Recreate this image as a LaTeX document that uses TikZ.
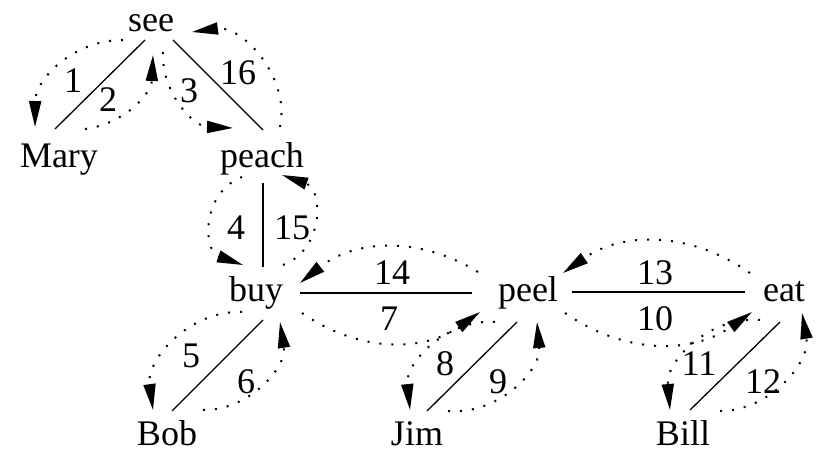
\documentclass[tikz,border=0pt]{standalone}
\usepackage{fontspec}
\setmainfont{Liberation Serif}
\usetikzlibrary{arrows.meta}
\begin{document}
\begin{tikzpicture}[x=1pt,y=1pt,
  word/.style={font=\fontsize{36}{40}\selectfont, inner sep=0pt, anchor=base},
  num/.style={font=\fontsize{36}{40}\selectfont, inner sep=0pt, anchor=base},
  edge/.style={line width=1.3pt},
  arc/.style={line width=2pt, dash pattern=on 2pt off 10pt,
    -{Triangle[length=26pt,width=12pt]}}]
\useasboundingbox (0,0) rectangle (819,453);
% words
\node[word] (see)   at (151,421) {see};
\node[word] (Mary)  at (59,285)  {Mary};
\node[word] (peach) at (262,285) {peach};
\node[word] (buy)   at (256,152) {buy};
\node[word] (peel)  at (528,152) {peel};
\node[word] (eat)   at (784,152) {eat};
\node[word] (Bob)   at (167,8)   {Bob};
\node[word] (Jim)   at (417,8)   {Jim};
\node[word] (Bill)  at (683,8)   {Bill};
% tree edges
\draw[edge] ([shift={(-4,39)}]Mary.base) -- ([shift={(-6,-8)}]see.base);
\draw[edge] ([shift={(22,-8)}]see.base) -- ([shift={(1,38)}]peach.base);
\draw[edge] ([shift={(1,-15)}]peach.base) -- ([shift={(7,34)}]buy.base);
\draw[edge] ([shift={(44,8)}]buy.base) -- ([shift={(-56,8)}]peel.base);
\draw[edge] ([shift={(7,-19)}]buy.base) -- ([shift={(5,34)}]Bob.base);
\draw[edge] ([shift={(-11,-21)}]peel.base) -- ([shift={(10,34)}]Jim.base);
\draw[edge] ([shift={(44,9)}]peel.base) -- ([shift={(-39,9)}]eat.base);
\draw[edge] ([shift={(-4,-21)}]eat.base) -- ([shift={(7,35)}]Bill.base);
% traversal arcs
\draw[arc] ([shift={(-28,-8)}]see.base) to[bend right=45] ([shift={(-24,41)}]Mary.base);
\draw[arc] ([shift={(26,39)}]Mary.base) to[bend right=40] ([shift={(2,-23)}]see.base);
\draw[arc] ([shift={(12,-20)}]see.base) to[bend right=45] ([shift={(-29,40)}]peach.base);
\draw[arc] ([shift={(-20,-9)}]peach.base) to[bend right=70,looseness=1.25] ([shift={(-13,36)}]buy.base);
\draw[arc] ([shift={(-14,-11)}]buy.base) to[bend right=50] ([shift={(-14,35)}]Bob.base);
\draw[arc] ([shift={(36,35)}]Bob.base) to[bend right=50] ([shift={(24,-21)}]buy.base);
\draw[arc] ([shift={(46,-12)}]buy.base) to[bend right=35] ([shift={(-48,-11)}]peel.base);
\draw[arc] ([shift={(-33,-21)}]peel.base) to[bend right=50] ([shift={(-7,35)}]Jim.base);
\draw[arc] ([shift={(31,34)}]Jim.base) to[bend right=50] ([shift={(9,-21)}]peel.base);
\draw[arc] ([shift={(37,-12)}]peel.base) to[bend right=35] ([shift={(-32,-11)}]eat.base);
\draw[arc] ([shift={(-24,-19)}]eat.base) to[bend right=50] ([shift={(-13,35)}]Bill.base);
\draw[arc] ([shift={(37,34)}]Bill.base) to[bend right=50] ([shift={(18,-12)}]eat.base);
\draw[arc] ([shift={(-34,28)}]eat.base) to[bend right=35] ([shift={(35,28)}]peel.base);
\draw[arc] ([shift={(-50,29)}]peel.base) to[bend right=35] ([shift={(44,18)}]buy.base);
\draw[arc] ([shift={(27,36)}]buy.base) to[bend right=70,looseness=1.25] ([shift={(20,-7)}]peach.base);
\draw[arc] ([shift={(18,41)}]peach.base) to[bend right=55] ([shift={(41,0)}]see.base);
% step numbers
\node[num] (n1)  at (73,360)  {1};
\node[num] (n2)  at (108,341) {2};
\node[num] (n3)  at (189,350) {3};
\node[num] (n16) at (238,368) {16};
\node[num] (n4)  at (236,213) {4};
\node[num] (n15) at (292,213) {15};
\node[num] (n14) at (392,168) {14};
\node[num] (n7)  at (389,123) {7};
\node[num] (n5)  at (191,86)  {5};
\node[num] (n6)  at (246,60)  {6};
\node[num] (n8)  at (445,78)  {8};
\node[num] (n9)  at (498,60)  {9};
\node[num] (n13) at (655,168) {13};
\node[num] (n10) at (655,123) {10};
\node[num] (n11) at (699,78)  {11};
\node[num] (n12) at (763,60)  {12};
\end{tikzpicture}
\end{document}
